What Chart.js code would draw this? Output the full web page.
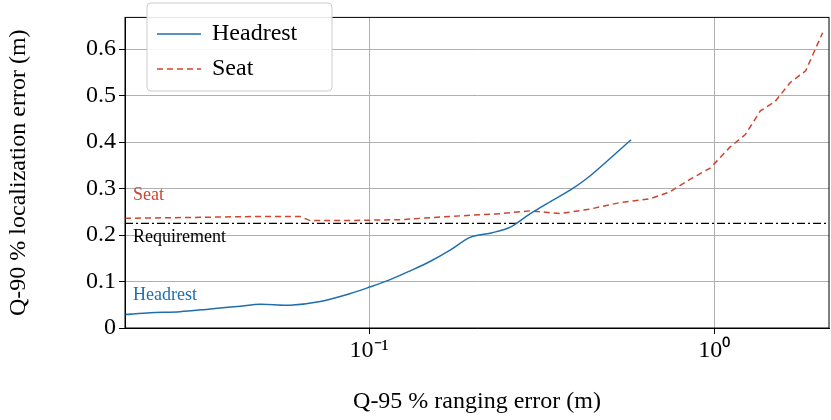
<!DOCTYPE html><html><head><script src="https://cdn.jsdelivr.net/npm/chart.js@4"></script>
<style>body{margin:0;background:#fff}#w{width:831px;height:420px}</style></head><body><div id="w"><canvas id="c"></canvas></div>
<script>
const headX=[0.0196,0.0232,0.0283,0.0346,0.0423,0.0483,0.059,0.0721,0.0881,0.1003,0.115,0.1315,0.150,0.172,0.196,0.2275,0.2565,0.293,0.335,0.383,0.438,0.574];
const headY=[0.029,0.033,0.035,0.041,0.047,0.051,0.049,0.057,0.074,0.088,0.104,0.123,0.143,0.168,0.195,0.205,0.217,0.246,0.272,0.297,0.328,0.405];
const seatX=[0.0196,0.0324,0.0483,0.063,0.0674,0.0824,0.123,0.172,0.24,0.293,0.358,0.438,0.535,0.652,0.744,0.852,0.973,1.11,1.23,1.36,1.5,1.66,1.84,2.06];
const seatY=[0.236,0.238,0.24,0.24,0.231,0.231,0.233,0.24,0.246,0.252,0.246,0.256,0.27,0.278,0.293,0.32,0.344,0.389,0.416,0.467,0.487,0.528,0.553,0.635];
const requirement=0.225;
const xTicks=[0.1,1];
const yTicks=[0,0.1,0.2,0.3,0.4,0.5,0.6];
const BLUE='#1f6fae',RED='#d0442f',F='"Liberation Serif", serif';
const pts=(xs,ys)=>xs.map((x,i)=>({x,y:ys[i]}));
const deco={id:'deco',afterDatasetsDraw(ch){const c=ch.ctx,a=ch.chartArea;c.save();
c.strokeStyle='#000';c.lineWidth=1;c.strokeRect(a.left,a.top,a.right-a.left,a.bottom-a.top);
c.font='18px '+F;c.textBaseline='middle';c.textAlign='left';
c.fillStyle=RED;c.fillText('Seat',a.left+8,195);c.fillStyle='#000';c.fillText('Requirement',a.left+8,237);c.fillStyle=BLUE;c.fillText('Headrest',a.left+8,295);
c.fillStyle='rgba(255,255,255,0.9)';c.strokeStyle='#ccc';c.beginPath();c.roundRect(147,3,185,88,4);c.fill();c.stroke();
c.lineWidth=1.5;c.strokeStyle=BLUE;c.beginPath();c.moveTo(157,34);c.lineTo(201,34);c.stroke();
c.strokeStyle=RED;c.setLineDash([6,4]);c.beginPath();c.moveTo(157,69);c.lineTo(201,69);c.stroke();c.setLineDash([]);
c.fillStyle='#000';c.font='24px '+F;c.fillText('Headrest',212,34);c.fillText('Seat',212,69);
c.restore();}};
new Chart(document.getElementById('c'),{type:'scatter',data:{datasets:[
{data:pts(headX,headY),showLine:true,borderColor:BLUE,borderWidth:1.5,pointRadius:0,tension:0.3},
{data:pts(seatX,seatY),showLine:true,borderColor:RED,borderWidth:1.5,borderDash:[6,4],pointRadius:0},
{data:[{x:0.0196,y:requirement},{x:2.15,y:requirement}],showLine:true,borderColor:'#000',borderWidth:1.3,borderDash:[8,3,2,3],pointRadius:0}]},
options:{animation:false,responsive:true,maintainAspectRatio:false,layout:{padding:{top:2,right:2}},
plugins:{legend:{display:false},tooltip:{enabled:false}},
scales:{x:{type:'logarithmic',min:0.0196,max:2.15,afterBuildTicks:s=>{s.ticks=xTicks.map(v=>({value:v}))},
afterFit:s=>{s.height=92},grid:{color:'#b0b0b0',tickLength:6,tickColor:'#000'},border:{color:'#000'},
ticks:{color:'#000',font:{family:F,size:24},maxRotation:0,padding:2,callback:v=>v===0.1?'10⁻¹':'10⁰'},
title:{display:true,text:'Q-95 % ranging error (m)',color:'#000',font:{family:F,size:24},padding:{top:0}}},
y:{min:0,max:0.668,afterBuildTicks:s=>{s.ticks=yTicks.map(v=>({value:v}))},afterFit:s=>{s.width=125},grid:{color:'#b0b0b0',tickLength:6,tickColor:'#000'},border:{color:'#000'},
ticks:{color:'#000',font:{family:F,size:24},callback:v=>v===0?'0':v.toFixed(1)},
title:{display:true,text:'Q-90 % localization error (m)',color:'#000',font:{family:F,size:24},padding:{bottom:4}}}}},
plugins:[deco]});
</script></body></html>
